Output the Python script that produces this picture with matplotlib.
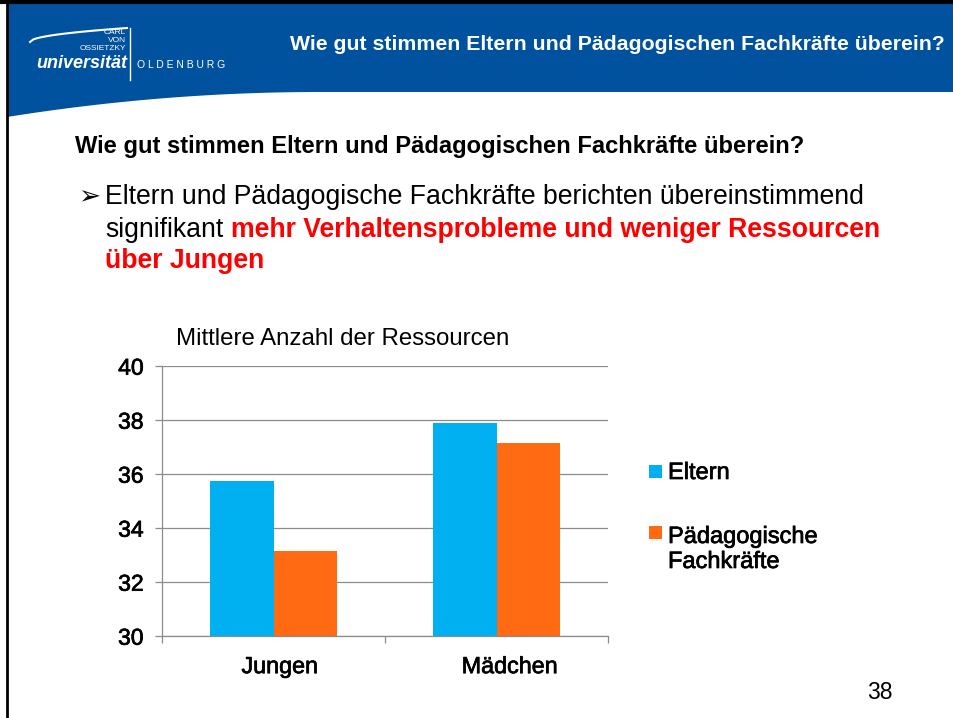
import matplotlib
matplotlib.use('Agg')
import matplotlib.pyplot as plt
import matplotlib.patheffects as pe
import matplotlib.transforms as mtransforms
from matplotlib.patches import Polygon, Rectangle
import numpy as np

# data
categories = ['Jungen', 'Mädchen']
eltern = [35.73, 37.88]
fachkraefte = [33.14, 37.13]
series_names = ['Eltern', 'Pädagogische', 'Fachkräfte']
y_ticks = [30, 32, 34, 36, 38, 40]

BLUE = '#00B0F0'
ORANGE = '#FF6A13'
HEADER = '#00519E'
GRID = '#8C8C8C'
RED = '#FF0000'

W, H = 954, 718
plt.rcParams['font.family'] = ['Liberation Sans', 'DejaVu Sans']
heavy = [pe.withStroke(linewidth=0.5, foreground='black')]

fig = plt.figure(figsize=(W / 100, H / 100), dpi=100)

# background axes in pixel coordinates for the slide decoration
bg = fig.add_axes([0, 0, 1, 1])
bg.set_xlim(0, W)
bg.set_ylim(H, 0)
bg.axis('off')

# blue header with curved lower edge on the left
xs = np.linspace(7, 320, 40)
ys = 92 + 25 * (1 - (xs - 7) / 313) ** 2
pts = [(7, 3), (W, 3), (W, 92)] + list(zip(xs[::-1], ys[::-1]))
bg.add_patch(Polygon(pts, closed=True, color=HEADER, lw=0))
bg.plot([0, W], [2, 2], color='black', lw=3)
bg.plot([7, 7], [0, H], color='black', lw=2)

# logo
sx = np.linspace(30, 127, 30)
bg.plot(sx, 42 - 14 * np.sqrt((sx - 30) / 97), color='white', lw=1.5)
bg.text(126, 33, 'CARL', color='white', fontsize=6, ha='right', va='center')
bg.text(126, 41, 'VON', color='white', fontsize=6, ha='right', va='center')
bg.text(126, 49, 'OSSIETZKY', color='white', fontsize=6, ha='right', va='center')
bg.text(127, 63, 'universität', color='white', fontsize=13, ha='right', va='center',
        fontweight='bold', fontstyle='italic')
bg.plot([130, 130], [28, 80], color='white', lw=1)
bg.text(137, 65, 'O L D E N B U R G', color='white', fontsize=7.5, ha='left', va='center')

bg.text(945, 50, 'Wie gut stimmen Eltern und Pädagogischen Fachkräfte überein?',
        color='white', fontsize=15.3, fontweight='bold', ha='right', va='baseline')

# slide text
bg.text(75, 153, 'Wie gut stimmen Eltern und Pädagogischen Fachkräfte überein?',
        fontsize=17.1, fontweight='bold', va='baseline')
bg.text(78, 204, '➢', fontsize=19, va='baseline', family=['DejaVu Sans'])
bg.text(105, 204, 'Eltern und Pädagogische Fachkräfte berichten übereinstimmend',
        fontsize=19.2, va='baseline')
bg.text(105, 237, 'signifikant', fontsize=19.2, va='baseline')
bg.text(231, 237, 'mehr Verhaltensprobleme und weniger Ressourcen',
        fontsize=19.2, fontweight='bold', color=RED, va='baseline')
bg.text(105, 268, 'über Jungen', fontsize=19.2, fontweight='bold', color=RED, va='baseline')

bg.text(176, 345, 'Mittlere Anzahl der Ressourcen', fontsize=17.3, va='baseline')

# legend
bg.add_patch(Rectangle((649, 465), 13, 13, color=BLUE, lw=0))
bg.add_patch(Rectangle((649, 526), 13, 13, color=ORANGE, lw=0))
bg.text(668, 479, series_names[0], fontsize=17, va='baseline', path_effects=heavy)
bg.text(668, 543, series_names[1], fontsize=17, va='baseline', path_effects=heavy)
bg.text(668, 568, series_names[2], fontsize=17, va='baseline', path_effects=heavy)

bg.text(880, 699, '38', fontsize=16.5, ha='center', va='baseline')

# chart
ax = fig.add_axes([162.3 / W, 82.3 / H, 446 / W, 270 / H])
x = np.arange(len(categories))
w = 0.285
ax.bar(x - w / 2, eltern, w, color=BLUE, zorder=2)
ax.bar(x + w / 2, fachkraefte, w, color=ORANGE, zorder=2)
ax.set_ylim(30, 40)
ax.set_xlim(-0.5, 1.5)
ax.set_yticks(y_ticks)
ax.yaxis.grid(True, color=GRID, lw=0.9)
ax.set_axisbelow(True)
ax.set_facecolor('none')
for s in ['top', 'right']:
    ax.spines[s].set_visible(False)
for s in ['left', 'bottom']:
    ax.spines[s].set_color(GRID)
    ax.spines[s].set_linewidth(0.9)

ax.set_xticks(x)
ax.set_xticklabels(categories)
ax.set_xticks([-0.5, 0.5, 1.5], minor=True)
ax.tick_params(axis='x', which='major', length=0, pad=14, labelsize=16.8)
ax.tick_params(axis='x', which='minor', length=5, color=GRID, width=0.9)
ax.tick_params(axis='y', length=5, color=GRID, width=0.9, pad=8.5, labelsize=16.5)
for lab in ax.get_xticklabels() + ax.get_yticklabels():
    lab.set_path_effects(heavy)

# category labels sit a little right of the group centres in the original
for lab, dx in zip(ax.get_xticklabels(), [6, 13]):
    lab.set_transform(lab.get_transform() +
                      mtransforms.ScaledTranslation(dx / 100, 0, fig.dpi_scale_trans))

fig.savefig('out.png', dpi=100)
